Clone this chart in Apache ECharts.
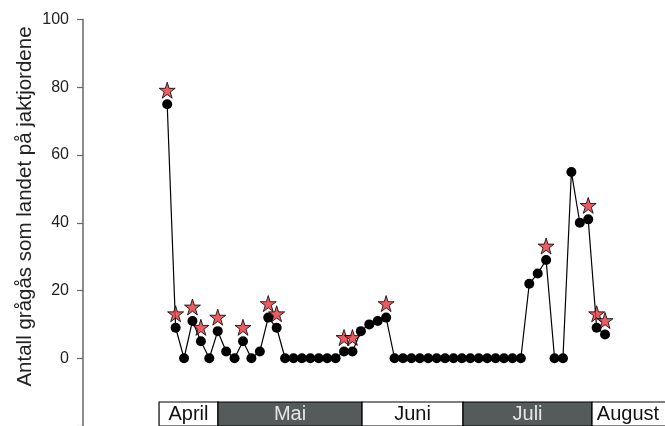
<!DOCTYPE html>
<html>
<head>
<meta charset="utf-8">
<script src="https://cdn.jsdelivr.net/npm/echarts@6/dist/echarts.min.js"></script>
<style>
  html, body { margin: 0; padding: 0; background: #fff; }
  #chart { width: 665px; height: 426px; }
</style>
</head>
<body>
<div id="chart"></div>
<script>
// Greylag geese landing on the hunting fields, one count per observation (1..53)
const counts = [
  75, 9, 0, 11, 5, 0, 8, 2, 0, 5, 0, 2, 12, 9,
  0, 0, 0, 0, 0, 0, 0,
  2, 2, 8, 10, 11, 12,
  0, 0, 0, 0, 0, 0, 0, 0, 0, 0, 0, 0, 0, 0, 0, 0,
  22, 25, 29, 0, 0, 55, 40, 41, 9, 7
];
// Observations (1-based) that fell on hunting days
const huntDays = [1, 2, 4, 5, 7, 10, 13, 14, 22, 23, 27, 46, 51, 52, 53];

// Month strip under the plot, edges in observation units
const months = ['April', 'Mai', 'Juni', 'Juli', 'August'];
const monthEdges = [0.03, 7.03, 24.14, 36.13, 51.45, 61.5];
const monthShaded = [false, true, false, true, false];

const yTicks = [0, 20, 40, 60, 80, 100];
const yTitle = 'Antall grågås som landet på jaktjordene';

const FONT = '"Liberation Sans", Arial, sans-serif';
const STAR = 'path://M50,0 L61.23,34.55 L97.55,34.55 L68.17,55.9 L79.39,90.45 L50,69.1 L20.61,90.45 L31.83,55.9 L2.45,34.55 L38.77,34.55 Z';

const chart = echarts.init(document.getElementById('chart'), null, { renderer: 'canvas' });

chart.setOption({
  animation: false,
  backgroundColor: '#fff',
  grid: [
    { left: 83, right: 1, top: 19.5, height: 414 },
    { left: 83, right: 1, top: 402, height: 30 }
  ],
  xAxis: [
    { type: 'value', gridIndex: 0, min: -9, max: 60, show: false },
    { type: 'value', gridIndex: 1, min: -9, max: 60, show: false }
  ],
  yAxis: [
    {
      type: 'value', gridIndex: 0,
      min: -20, max: yTicks[yTicks.length - 1], interval: 20,
      splitLine: { show: false },
      axisLine: { show: true, onZero: false, lineStyle: { color: '#666', width: 1.5 } },
      axisTick: { show: true, length: 6, lineStyle: { color: '#666', width: 1.2 } },
      axisLabel: {
        margin: 14,
        color: '#222',
        fontSize: 16,
        fontFamily: FONT,
        formatter: v => (yTicks.indexOf(v) >= 0 ? String(v) : '')
      }
    },
    { type: 'value', gridIndex: 1, min: 0, max: 1, show: false }
  ],
  graphic: [{
    type: 'text',
    x: 25.5,
    y: 206.5,
    rotation: Math.PI / 2,
    style: {
      text: yTitle,
      fill: '#222',
      font: '20.5px ' + FONT,
      align: 'center',
      verticalAlign: 'middle',
      textAlign: 'center',
      textVerticalAlign: 'middle'
    }
  }],
  series: [
    {
      type: 'line',
      xAxisIndex: 0, yAxisIndex: 0,
      data: counts.map((v, i) => [i + 1, v]),
      symbol: 'circle',
      symbolSize: 10,
      showAllSymbol: true,
      itemStyle: { color: '#000' },
      lineStyle: { color: '#000', width: 1.2 },
      emphasis: { disabled: true },
      z: 2
    },
    {
      type: 'scatter',
      xAxisIndex: 0, yAxisIndex: 0,
      data: huntDays.map(d => [d, counts[d - 1]]),
      symbol: STAR,
      symbolSize: 16,
      symbolOffset: [0, -14],
      itemStyle: { color: '#e5353b', borderColor: '#000', borderWidth: 1 },
      emphasis: { disabled: true },
      z: 3
    },
    {
      type: 'custom',
      xAxisIndex: 1, yAxisIndex: 1,
      data: months.map((m, i) => [monthEdges[i], monthEdges[i + 1]]),
      clip: false,
      renderItem: (params, api) => {
        const i = params.dataIndex;
        const p0 = api.coord([api.value(0), 1]);
        const p1 = api.coord([api.value(1), 0]);
        const cs = params.coordSys;
        const right = Math.min(p1[0], cs.x + cs.width);
        const shaded = monthShaded[i];
        return {
          type: 'group',
          children: [
            {
              type: 'rect',
              shape: { x: p0[0], y: p0[1], width: p1[0] - p0[0], height: p1[1] - p0[1] },
              style: { fill: shaded ? '#555a5b' : '#fff', stroke: '#000', lineWidth: 1.2 }
            },
            {
              type: 'text',
              style: {
                text: months[i],
                x: (p0[0] + right) / 2,
                y: p0[1] + 12,
                align: 'center',
                verticalAlign: 'middle',
                fill: shaded ? '#e6e6e6' : '#111',
                font: '20px ' + FONT
              }
            }
          ]
        };
      }
    }
  ]
});
</script>
</body>
</html>
